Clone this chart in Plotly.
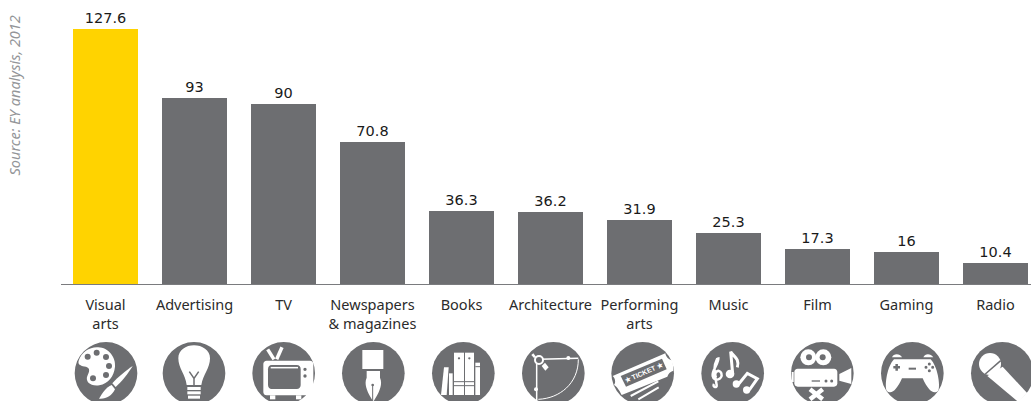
import re
import plotly.graph_objects as go

categories = ["Visual<br>arts", "Advertising", "TV", "Newspapers<br>&amp; magazines", "Books",
              "Architecture", "Performing<br>arts", "Music", "Film", "Gaming", "Radio"]
values = [127.6, 93, 90, 70.8, 36.3, 36.2, 31.9, 25.3, 17.3, 16, 10.4]
value_labels = ["127.6", "93", "90", "70.8", "36.3", "36.2", "31.9", "25.3", "17.3", "16", "10.4"]

GREY = "#6d6e71"
YELLOW = "#ffd300"
WHITE = "#ffffff"
bar_colors = [YELLOW] + [GREY] * 10

W, H = 1031, 401
fig = go.Figure()
fig.add_trace(go.Bar(
    x=list(range(len(values))), y=values, width=0.73, marker_color=bar_colors, marker_line_width=0,
    text=value_labels, textposition="outside", cliponaxis=False, hoverinfo="skip",
    textfont=dict(family="DejaVu Sans", size=14.5, color="#1a1a1a"), showlegend=False,
))
# overlay axes in picture pixels, used only for the decorative icons
fig.add_trace(go.Scatter(x=[None], y=[None], xaxis="x2", yaxis="y2", hoverinfo="skip", showlegend=False))

shapes = []
def conv(d, ox):
    def rep(m):
        return f"{float(m.group(1))/3+ox:.2f},{float(m.group(2))/3+270:.2f}"
    return re.sub(r"(-?\d+\.?\d*),(-?\d+\.?\d*)", rep, d)

def fill(d, ox=0, color=WHITE):
    shapes.append(dict(type="path", path=conv(d, ox), fillcolor=color, line_width=0,
                       xref="x2", yref="y2", layer="above"))

def stroke(d, ox=0, color=WHITE, w=1.5):
    shapes.append(dict(type="path", path=conv(d, ox), line=dict(color=color, width=w),
                       xref="x2", yref="y2", layer="above"))

def circ(cx, cy, r, ox=0, color=WHITE, lc=None, lw=0):
    shapes.append(dict(type="circle", x0=cx/3+ox-r/3, x1=cx/3+ox+r/3, y0=cy/3+270-r/3, y1=cy/3+270+r/3,
                       fillcolor=color, line=dict(color=lc or color, width=lw),
                       xref="x2", yref="y2", layer="above"))

def rect(x0, y0, x1, y1, ox=0, color=WHITE):
    fill(f"M {x0},{y0} L {x1},{y0} L {x1},{y1} L {x0},{y1} Z", ox, color)

# background discs
for cx, ox in [(318, 0), (582, 0), (851, 0), (1120, 0), (1390, 0),
               (130, 510), (398, 510), (668, 510), (937, 510), (1207, 510), (1477, 510)]:
    circ(cx, 310, 94, ox, GREY)

# palette
fill("M 236,272 C 245,245 270,230 295,232 C 325,233 348,262 345,290 C 342,320 325,340 298,346 "
     "C 272,350 255,335 262,318 C 268,305 272,295 258,290 C 245,288 232,285 236,272 Z")
for x, y in [(263, 260), (290, 248), (318, 261), (327, 288), (318, 315), (279, 325)]:
    circ(x, y, 9, 0, GREY)
fill("M 398,288 C 380,300 355,320 337,340 L 347,351 C 365,335 385,310 398,288 Z")
fill("M 335,345 C 318,352 308,368 297,386 C 318,388 335,378 345,358 Z")

# bulb
fill("M 560,345 C 556,312 535,295 535,265 C 535,240 558,226 582,226 C 606,226 630,240 630,265 "
     "C 630,295 610,312 604,345 Z")
stroke("M 568,305 L 582,325 L 596,305 M 582,325 L 582,345", 0, GREY, 1.5)
rect(562, 351, 602, 360)
rect(562, 364, 602, 373)
rect(564, 377, 600, 386)

# TV
stroke("M 822,268 L 803,238", 0, WHITE, 3.5)
stroke("M 830,268 L 846,232", 0, WHITE, 3.5)
fill("M 800,272 L 930,272 C 936,272 940,276 940,282 L 940,366 C 940,372 936,376 930,376 "
     "L 800,376 C 794,376 790,372 790,366 L 790,282 C 790,276 794,272 800,272 Z")
fill("M 815,285 L 890,285 C 898,285 902,290 902,298 L 902,345 C 902,352 898,357 890,357 "
     "L 815,357 C 808,357 804,352 804,345 L 804,298 C 804,290 808,285 815,285 Z", 0, GREY)
stroke("M 812,293 L 894,293", 0, WHITE, 1.5)
circ(915, 298, 5, 0, GREY)
circ(915, 318, 5, 0, GREY)
rect(810, 376, 826, 388)
rect(888, 376, 904, 388)

# pen nib
rect(1087, 240, 1150, 297)
fill("M 1100,303 L 1140,303 L 1140,323 C 1150,345 1135,372 1120,395 C 1105,372 1090,345 1100,323 Z")
circ(1118, 345, 4, 0, GREY)
stroke("M 1118,345 L 1118,395", 0, GREY, 1)

# books
rect(1362, 248, 1392, 375)
rect(1395, 248, 1422, 375)
circ(1377, 265, 3.5, 0, GREY)
circ(1408, 265, 3.5, 0, GREY)
stroke("M 1360,335 L 1424,335 M 1360,347 L 1424,347", 0, GREY, 1)
fill("M 1332,292 L 1346,292 L 1340,375 L 1323,375 Z")
rect(1347, 310, 1358, 375)
rect(1426, 278, 1440, 375)
stroke("M 1426,290 L 1440,290", 0, GREY, 1)

# compass
stroke("M 90,268 L 205,265", 510, WHITE, 1.5)
stroke("M 80,280 L 80,390", 510, WHITE, 1.5)
stroke("M 205,268 C 205,340 150,385 85,388", 510, WHITE, 1)
circ(87, 270, 12, 510, GREY, WHITE, 2)
fill("M 95,288 L 105,278 L 116,292 L 106,302 Z", 510)
fill("M 64,255 L 70,250 L 78,260 L 72,264 Z", 510)
circ(175, 264, 6, 510)
circ(78, 358, 6, 510)

# tickets
fill("M 308,318 L 466,250 C 468,262 478,270 488,272 L 490,302 C 480,305 475,312 472,320 "
     "L 335,375 C 330,365 322,350 312,345 C 318,338 316,325 308,318 Z", 510)
fill("M 332,318 L 456,266 L 470,298 L 348,350 Z", 510, GREY)
stroke("M 362,378 L 445,334 M 385,388 L 446,352", 510, WHITE, 2)

# music
stroke("M 622,265 C 610,290 612,300 620,345 C 622,355 606,352 612,342 "
       "M 625,262 C 628,280 605,300 608,318 C 612,338 640,328 634,310 C 628,295 610,305 618,322", 510, WHITE, 2.5)
circ(660, 312, 13, 510)
stroke("M 668,312 L 662,245 C 670,260 690,265 682,292", 510, WHITE, 3)
circ(679, 342, 11, 510)
circ(710, 360, 11, 510)
stroke("M 686,342 L 712,310 L 742,326 L 718,360", 510, WHITE, 3)

# film camera
circ(895, 262, 24, 510)
circ(940, 262, 24, 510)
circ(897, 262, 9, 510, GREY)
circ(938, 262, 9, 510, GREY)
fill("M 863,296 L 972,296 C 978,296 982,300 982,306 L 982,340 C 982,346 978,350 972,350 "
     "L 863,350 C 857,350 853,346 853,340 L 853,306 C 853,300 857,296 863,296 Z", 510)
rect(845, 306, 851, 336, 510)
fill("M 988,312 L 1024,294 L 1024,342 L 988,332 Z", 510)
rect(905, 331, 930, 335, 510, GREY)
circ(948, 333, 4.5, 510, GREY)
circ(965, 333, 4.5, 510, GREY)
stroke("M 900,358 L 938,388 M 938,358 L 900,388", 510, WHITE, 4.5)

# gamepad
fill("M 1152,268 L 1262,268 C 1282,288 1292,345 1285,362 C 1270,376 1254,360 1238,325 "
     "L 1176,325 C 1160,360 1144,376 1130,362 C 1123,345 1132,288 1152,268 Z", 510)
fill("M 1146,262 C 1150,250 1170,250 1176,262 Z", 510)
fill("M 1240,262 C 1245,250 1262,250 1270,262 Z", 510)
stroke("M 1150,292 L 1170,292 M 1160,282 L 1160,302", 510, GREY, 2.5)
stroke("M 1196,296 L 1218,296", 510, GREY, 2)
for x, y in [(1248, 292), (1268, 292), (1258, 282), (1258, 302)]:
    circ(x, y, 4.5, 510, GREY)

# microphone
circ(1440, 282, 33, 510)
fill("M 1432,318 L 1525,396 L 1552,370 L 1478,290 Z", 510)
stroke("M 1426,312 L 1472,272", 510, GREY, 1.5)

annotations = [
    dict(text="<i>Source: EY analysis, 2012</i>", xref="x2", yref="y2", x=13, y=95.5, showarrow=False,
         textangle=-90, font=dict(family="Noto Sans", size=14.5, color="#939598")),
    dict(text="<b>★ TICKET ★</b>", xref="x2", yref="y2", x=510 + 401/3, y=270 + 308/3, showarrow=False,
         textangle=-24, font=dict(family="Liberation Sans", size=7, color=WHITE)),
]

fig.update_layout(
    width=W, height=H, margin=dict(l=0, r=0, t=0, b=0), paper_bgcolor="white", plot_bgcolor="rgba(0,0,0,0)",
    bargap=0, showlegend=False,
    xaxis=dict(domain=[61 / W, 1], range=[-0.5, 10.399], tickmode="array",
               tickvals=list(range(len(categories))), ticktext=categories,
               ticks="outside", ticklen=8, tickcolor="rgba(0,0,0,0)",
               tickfont=dict(family="Noto Sans", size=14.5, color="#2b2b2b"),
               showline=True, linecolor="#7a7b7e", linewidth=1, showgrid=False, zeroline=False, anchor="y"),
    yaxis=dict(domain=[117 / H, 1], range=[0, 142], visible=False, showgrid=False, zeroline=False),
    xaxis2=dict(domain=[0, 1], range=[0, W], visible=False, anchor="y2"),
    yaxis2=dict(domain=[0, 1], range=[H, 0], visible=False, anchor="x2"),
    shapes=shapes, annotations=annotations,
)
fig.write_html("out.html", post_script="document.body.style.margin='0';", config={"displayModeBar": False})
